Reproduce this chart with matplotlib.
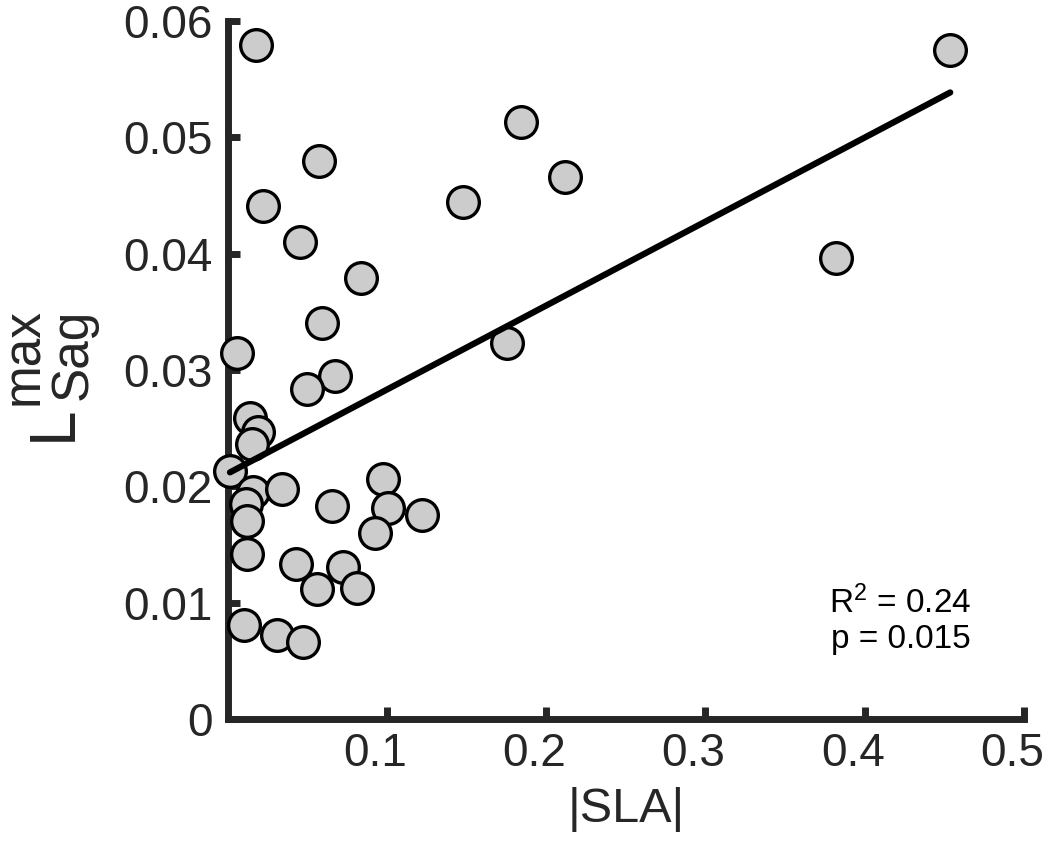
import numpy as np
import matplotlib
matplotlib.use("Agg")
from matplotlib import pyplot as plt
from matplotlib.transforms import ScaledTranslation

# |SLA| vs L_Sag^max
sla = np.array([0.0177, 0.4537, 0.1841, 0.2118, 0.0573, 0.0221, 0.1477, 0.0454,
                0.0837, 0.3820, 0.0592, 0.1754, 0.0674, 0.0498, 0.0058,
                0.0141, 0.0193, 0.0150, 0.0014, 0.0160, 0.0339, 0.0115, 0.0119,
                0.0119, 0.0653, 0.0977, 0.1008, 0.1218, 0.0925, 0.0427, 0.0559,
                0.0726, 0.0810, 0.0104, 0.0307, 0.0474])
lsag = np.array([0.0579, 0.0575, 0.0513, 0.0466, 0.0480, 0.0441, 0.0444, 0.0410,
                 0.0379, 0.0396, 0.0340, 0.0323, 0.0295, 0.0284, 0.0315,
                 0.0259, 0.0247, 0.0236, 0.0213, 0.0195, 0.0198, 0.0185, 0.0170,
                 0.0142, 0.0183, 0.0206, 0.0181, 0.0175, 0.0160, 0.0133, 0.0112,
                 0.0131, 0.0113, 0.0081, 0.0072, 0.0066])

# linear fit as shown
fit_slope = 0.0722
fit_intercept = 0.0211
r2 = 0.24
p_val = 0.015

xticks = [0.1, 0.2, 0.3, 0.4, 0.5]
xticklabels = ["0.1", "0.2", "0.3", "0.4", "0.5"]
yticks = [0, 0.01, 0.02, 0.03, 0.04, 0.05, 0.06]
yticklabels = ["0", "0.01", "0.02", "0.03", "0.04", "0.05", "0.06"]

axcol = "#262626"
plt.rcParams["font.family"] = ["Liberation Sans", "DejaVu Sans"]

fig = plt.figure(figsize=(10.5, 8.49), dpi=100)
ax = fig.add_axes([0.2169, 0.1531, 0.7583, 0.8222])

ax.scatter(sla, lsag, s=520, facecolor="#cccccc", edgecolor="black",
           linewidth=2.4, zorder=3, clip_on=False)

xf = np.array([sla.min(), sla.max()])
ax.plot(xf, fit_intercept + fit_slope * xf, color="black", lw=4.5,
        solid_capstyle="round", zorder=4, clip_on=False)

ax.set_xlim(0, 0.5)
ax.set_ylim(0, 0.06)
ax.set_xticks(xticks)
ax.set_xticklabels(xticklabels)
ax.set_yticks(yticks)
ax.set_yticklabels(yticklabels)

for side in ["top", "right"]:
    ax.spines[side].set_visible(False)
for side in ["left", "bottom"]:
    ax.spines[side].set_linewidth(5)
    ax.spines[side].set_color(axcol)

ax.tick_params(direction="in", length=8.3, width=5, color=axcol,
               labelcolor=axcol, labelsize=33)
ax.tick_params(axis="y", pad=11)
ax.tick_params(axis="x", pad=9)

# x tick labels sit a little left of their ticks in the reference
shift = ScaledTranslation(-0.12, 0, fig.dpi_scale_trans)
for lab in ax.get_xticklabels():
    lab.set_transform(lab.get_transform() + shift)

ax.set_xlabel("|SLA|", fontsize=35, color=axcol, labelpad=8)

# y label: L with stacked max / Sag
fig.text(71 / 1050, 1 - 441 / 849, "L", fontsize=46, color=axcol,
         rotation=90, rotation_mode="anchor", ha="left", va="baseline")
fig.text(87 / 1050, 1 - 400 / 849, "Sag", fontsize=37, color=axcol,
         rotation=90, rotation_mode="anchor", ha="left", va="baseline")
fig.text(38 / 1050, 1 - 405 / 849, "max", fontsize=37, color=axcol,
         rotation=90, rotation_mode="anchor", ha="left", va="baseline")

ax.text(0.845, 0.152, r"$\mathregular{R^2}$ = %.2f" % r2, transform=ax.transAxes,
        fontsize=24, ha="center", va="baseline", color="black")
ax.text(0.846, 0.1017, "p = %.3f" % p_val, transform=ax.transAxes,
        fontsize=24, ha="center", va="baseline", color="black")

fig.savefig("out.png", dpi=100)
